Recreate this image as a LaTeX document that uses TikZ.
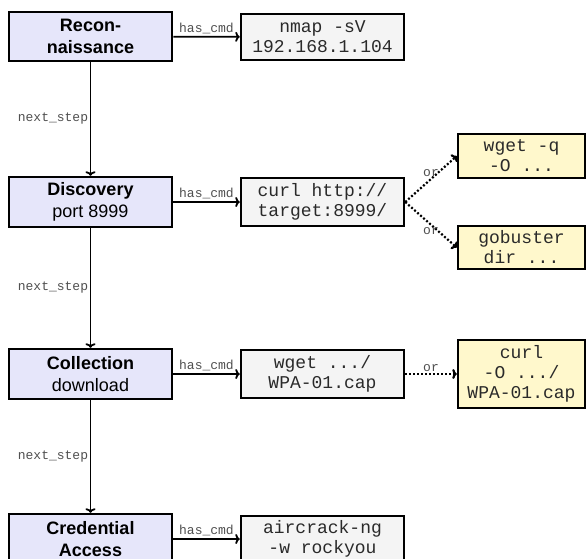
\documentclass[tikz,border=0pt]{standalone}
\usepackage{fontspec}
\setmainfont{Liberation Sans}
\setmonofont{Liberation Mono}
\usetikzlibrary{arrows.meta}
\definecolor{stepfill}{HTML}{E6E6FA}
\definecolor{cmdfill}{HTML}{F4F4F4}
\definecolor{altfill}{HTML}{FFF8CC}
\definecolor{lblgray}{HTML}{505050}
\definecolor{monotext}{HTML}{2A2A2A}
\tikzset{
  stepbox/.style={draw=black, line width=2.5pt, fill=stepfill, rectangle, align=center,
    minimum width=163pt, inner sep=0pt, font=\fontsize{18}{22}\selectfont},
  cmdbox/.style={draw=black, line width=2.5pt, fill=cmdfill, rectangle, align=center, text=monotext,
    minimum width=163pt, inner sep=0pt, font=\fontsize{18}{20}\selectfont\ttfamily},
  altbox/.style={draw=black, line width=2.5pt, fill=altfill, rectangle, align=center, text=monotext,
    minimum width=127pt, inner sep=0pt, font=\fontsize{18}{20}\selectfont\ttfamily},
  conn/.style={line width=1.8pt, -{To[length=4.5pt,width=10pt]}},
  orconn/.style={line width=2.2pt, dash pattern=on 2pt off 2pt, -{To[length=4.5pt,width=10pt]}},
  cmdlbl/.style={font=\fontsize{13}{14}\selectfont\ttfamily, text=lblgray, inner sep=2pt},
  nextlbl/.style={font=\fontsize{13}{14}\selectfont\ttfamily, text=lblgray, inner sep=1.5pt},
  orlbl/.style={font=\fontsize{13}{14}\selectfont\ttfamily, text=lblgray, inner sep=1.5pt},
}
\begin{document}
\begin{tikzpicture}[x=1pt, y=-1pt]
\useasboundingbox (0,0) rectangle (586,558);
\clip (0,0) rectangle (586,558);
\fill[white] (0,0) rectangle (586,558);
% steps
\node[stepbox, minimum height=49pt] (s1) at (90.5,36.5) {\textbf{Recon-}\\\textbf{naissance}};
\node[stepbox, minimum height=50pt] (s2) at (90.5,202) {\textbf{Discovery}\\port 8999};
\node[stepbox, minimum height=50pt] (s3) at (90.5,374) {\textbf{Collection}\\download};
\node[stepbox, minimum height=50pt] (s4) at (90.5,539) {\textbf{Credential}\\\textbf{Access}};
% commands
\node[cmdbox, minimum height=46pt] (c1) at (322.5,37) {nmap -sV\\192.168.1.104};
\node[cmdbox, minimum height=48pt] (c2) at (322.5,202) {curl http://\\target:8999/};
\node[cmdbox, minimum height=48pt] (c3) at (322.5,374) {wget .../\\WPA-01.cap};
\node[cmdbox, minimum height=46pt] (c4) at (322.5,539) {aircrack-ng\\-w rockyou};
% alternatives
\node[altbox, minimum height=44pt] (a1) at (521.5,156) {wget -q\\-O ...};
\node[altbox, minimum height=43pt] (a2) at (521.5,247.5) {gobuster\\dir ...};
\node[altbox, minimum height=68pt] (a3) at (521.5,374) {curl\\-O .../\\WPA-01.cap};
% next_step
\draw[conn] (s1) -- node[nextlbl, left] {next\_step} (s2);
\draw[conn] (s2) -- node[nextlbl, left] {next\_step} (s3);
\draw[conn] (s3) -- node[nextlbl, left] {next\_step} (s4);
% has_cmd
\draw[conn] (s1) -- node[cmdlbl, above] {has\_cmd} (c1);
\draw[conn] (s2) -- node[cmdlbl, above] {has\_cmd} (c2);
\draw[conn] (s3) -- node[cmdlbl, above] {has\_cmd} (c3);
\draw[conn] (s4.east |- c4) -- node[cmdlbl, above] {has\_cmd} (c4);
% or
\draw[orconn] (c2.east) -- node[orlbl, above] {or} (a1.west);
\draw[orconn] (c2.east) -- node[orlbl, below] {or} (a2.west);
\draw[orconn] (c3) -- node[orlbl, above] {or} (a3);
\end{tikzpicture}
\end{document}
